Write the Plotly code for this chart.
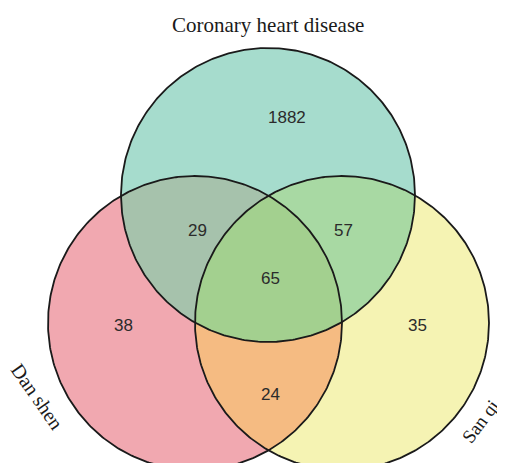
import numpy as np
import plotly.graph_objects as go

# ---- data ----
set_names = ["Coronary heart disease", "Dan shen", "San qi"]
# region membership (CHD, Dan shen, San qi) -> count
region_keys = [(1, 0, 0), (0, 1, 0), (0, 0, 1), (1, 1, 0), (1, 0, 1), (0, 1, 1), (1, 1, 1)]
region_counts = [1882, 38, 35, 29, 57, 24, 65]
region_colors = ["#a6dccd", "#f1a8b0", "#f5f3b3", "#a6c2ac", "#a8d9a3", "#f5bb82", "#a3d08f"]

# ---- layout geometry (pixel-like coordinates) ----
R = 147
centers = np.array([[268.0, 195.0], [195.0, 323.0], [342.0, 323.0]])
label_pos = {(1, 0, 0): (287, 117), (0, 1, 0): (123, 325), (0, 0, 1): (417, 325),
             (1, 1, 0): (197, 230), (1, 0, 1): (343, 230), (0, 1, 1): (270, 394),
             (1, 1, 1): (270, 278)}


def member(p):
    return tuple(int(np.hypot(*(p - c)) < R) for c in centers)


def circle_intersections(c1, c2):
    d = np.hypot(*(c2 - c1))
    a = d / 2
    h = np.sqrt(R * R - a * a)
    m = c1 + (c2 - c1) * a / d
    perp = np.array([-(c2 - c1)[1], (c2 - c1)[0]]) / d
    return [m + h * perp, m - h * perp]


# split each circle into arcs at the intersection points
arcs = []  # (circle index, start angle, end angle)
for k, c in enumerate(centers):
    angs = []
    for j in range(3):
        if j != k:
            for p in circle_intersections(c, centers[j]):
                angs.append(np.arctan2(p[1] - c[1], p[0] - c[0]) % (2 * np.pi))
    angs = sorted(angs)
    for i in range(len(angs)):
        a0 = angs[i]
        a1 = angs[(i + 1) % len(angs)]
        if a1 <= a0:
            a1 += 2 * np.pi
        arcs.append((k, a0, a1))


def arc_points(k, a0, a1, n=80):
    t = np.linspace(a0, a1, n)
    return np.column_stack([centers[k][0] + R * np.cos(t), centers[k][1] + R * np.sin(t)])


def region_polygon(key):
    segs = []
    for k, a0, a1 in arcs:
        am = (a0 + a1) / 2
        d = np.array([np.cos(am), np.sin(am)])
        inner = centers[k] + (R - 1) * d
        outer = centers[k] + (R + 1) * d
        if member(inner) == key or member(outer) == key:
            segs.append(arc_points(k, a0, a1))
    poly = [segs.pop(0)]
    while segs:
        end = poly[-1][-1]
        for i, s in enumerate(segs):
            if np.hypot(*(s[0] - end)) < 1e-6:
                poly.append(segs.pop(i))
                break
            if np.hypot(*(s[-1] - end)) < 1e-6:
                poly.append(segs.pop(i)[::-1])
                break
        else:
            break
    return np.vstack(poly)


fig = go.Figure()
for key, cnt, col in zip(region_keys, region_counts, region_colors):
    pts = region_polygon(key)
    fig.add_trace(go.Scatter(x=pts[:, 0], y=pts[:, 1], mode="lines", fill="toself",
                             fillcolor=col, line=dict(width=0), hoverinfo="skip",
                             showlegend=False))

# circle outlines
for c in centers:
    t = np.linspace(0, 2 * np.pi, 400)
    fig.add_trace(go.Scatter(x=c[0] + R * np.cos(t), y=c[1] + R * np.sin(t), mode="lines",
                             line=dict(color="#1a1a1a", width=1.8), hoverinfo="skip",
                             showlegend=False))

# counts
for key, cnt in zip(region_keys, region_counts):
    x, y = label_pos[key]
    fig.add_annotation(x=x, y=y, text=str(cnt), showarrow=False,
                       font=dict(family="Liberation Sans, Arial", size=17, color="#2b2b2b"))

# set names
serif = "Liberation Serif, Times New Roman, serif"
fig.add_annotation(x=268, y=25, text=set_names[0], showarrow=False,
                   font=dict(family=serif, size=21, color="#1a1a1a"))
fig.add_annotation(x=37, y=396, text=set_names[1], showarrow=False, textangle=55,
                   font=dict(family=serif, size=20, color="#1a1a1a"))
fig.add_annotation(x=480, y=421, text=set_names[2], showarrow=False, textangle=-53,
                   font=dict(family=serif, size=19, color="#1a1a1a"))

# page body has an 8px margin: the figure covers window pixels 8..505 / 8..463
fig.update_layout(
    width=497, height=455,
    margin=dict(l=0, r=0, t=0, b=0),
    paper_bgcolor="white", plot_bgcolor="white",
    xaxis=dict(range=[8, 505], visible=False, fixedrange=True),
    yaxis=dict(range=[463, 8], visible=False, fixedrange=True, scaleanchor="x", scaleratio=1),
)
fig.write_html("out.html")
